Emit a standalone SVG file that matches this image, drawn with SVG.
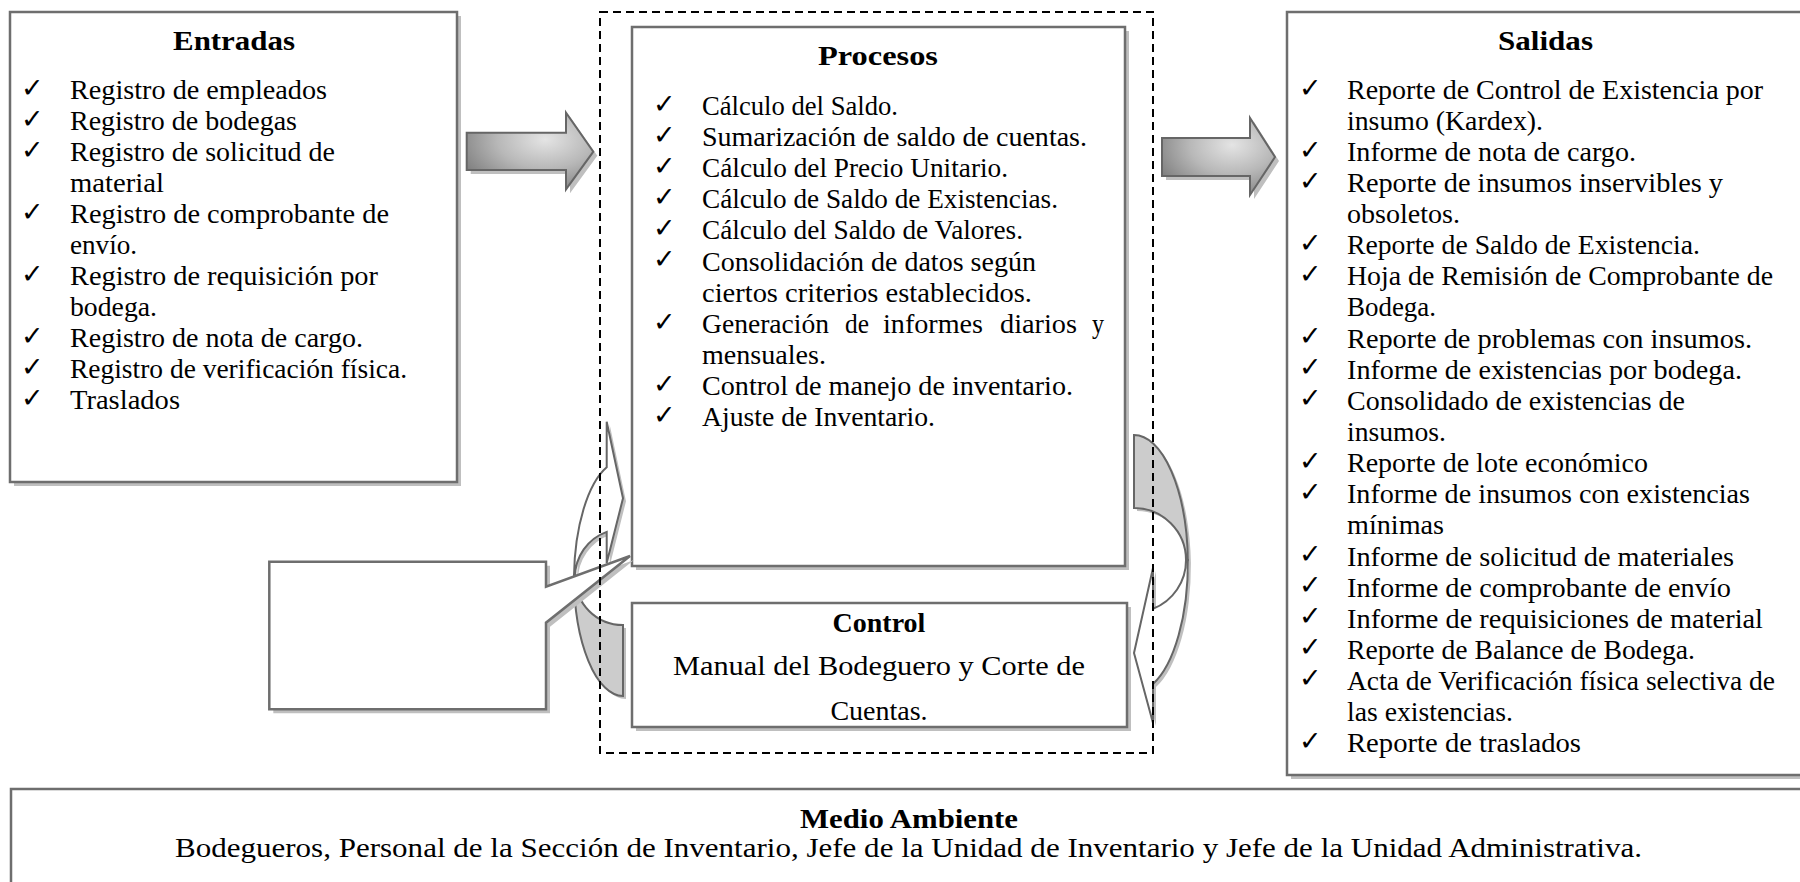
<svg xmlns="http://www.w3.org/2000/svg" width="1800" height="882" viewBox="0 0 1800 882">
<defs>
<style>
.box{fill:#fff;stroke:#6e6e6e;stroke-width:2.5}
.sh{fill:#bfbfbf;stroke:none}
.t{font-family:"Liberation Serif",serif;font-size:27px;fill:#000}
.tb{font-family:"Liberation Serif",serif;font-size:28px;font-weight:bold;fill:#000}
.ck{font-family:"DejaVu Sans",sans-serif;font-size:27px;fill:#000}
.arr{fill:url(#ag);stroke:#666;stroke-width:2}
.cv{stroke:#666;stroke-width:2;stroke-linejoin:miter}
.dash{fill:none;stroke:#000;stroke-width:2;stroke-dasharray:8 5}
</style>
<radialGradient id="ag" cx="0.62" cy="0.35" r="0.75">
<stop offset="0" stop-color="#e4e4e4"/>
<stop offset="0.5" stop-color="#b8b8b8"/>
<stop offset="1" stop-color="#7c7c7c"/>
</radialGradient>
</defs>
<rect width="1800" height="882" fill="#fff"/>

<g id="entradas">
<rect class="sh" x="14" y="16" width="447" height="470"/>
<rect class="box" x="10" y="12" width="447" height="470"/>
<text class="tb" x="173" y="50" textLength="122" lengthAdjust="spacingAndGlyphs">Entradas</text>
<g class="ck">
<text x="21" y="97">✓</text><text x="21" y="128">✓</text><text x="21" y="159">✓</text><text x="21" y="221">✓</text><text x="21" y="283">✓</text><text x="21" y="345">✓</text><text x="21" y="376">✓</text><text x="21" y="407">✓</text>
</g>
<g class="t">
<text x="70" y="99" textLength="257" lengthAdjust="spacingAndGlyphs">Registro de empleados</text>
<text x="70" y="130" textLength="227" lengthAdjust="spacingAndGlyphs">Registro de bodegas</text>
<text x="70" y="161" textLength="265" lengthAdjust="spacingAndGlyphs">Registro de solicitud de</text>
<text x="70" y="192" textLength="94" lengthAdjust="spacingAndGlyphs">material</text>
<text x="70" y="223" textLength="319" lengthAdjust="spacingAndGlyphs">Registro de comprobante de</text>
<text x="70" y="254" textLength="67" lengthAdjust="spacingAndGlyphs">envío.</text>
<text x="70" y="285" textLength="308" lengthAdjust="spacingAndGlyphs">Registro de requisición por</text>
<text x="70" y="316" textLength="87" lengthAdjust="spacingAndGlyphs">bodega.</text>
<text x="70" y="347" textLength="293" lengthAdjust="spacingAndGlyphs">Registro de nota de cargo.</text>
<text x="70" y="378" textLength="337" lengthAdjust="spacingAndGlyphs">Registro de verificación física.</text>
<text x="70" y="409" textLength="110" lengthAdjust="spacingAndGlyphs">Traslados</text>
</g>
</g>

<g id="procesos">
<rect class="sh" x="636" y="31" width="493" height="539"/>
<rect class="box" x="632" y="27" width="493" height="539"/>
<text class="tb" x="818" y="65" textLength="120" lengthAdjust="spacingAndGlyphs">Procesos</text>
<g class="ck">
<text x="653" y="113">✓</text><text x="653" y="144">✓</text><text x="653" y="175">✓</text><text x="653" y="206">✓</text><text x="653" y="237">✓</text><text x="653" y="268">✓</text><text x="653" y="331">✓</text><text x="653" y="393">✓</text><text x="653" y="424">✓</text>
</g>
<g class="t">
<text x="702" y="115" textLength="196" lengthAdjust="spacingAndGlyphs">Cálculo del Saldo.</text>
<text x="702" y="146" textLength="385" lengthAdjust="spacingAndGlyphs">Sumarización de saldo de cuentas.</text>
<text x="702" y="177" textLength="306" lengthAdjust="spacingAndGlyphs">Cálculo del Precio Unitario.</text>
<text x="702" y="208" textLength="356" lengthAdjust="spacingAndGlyphs">Cálculo de Saldo de Existencias.</text>
<text x="702" y="239" textLength="321" lengthAdjust="spacingAndGlyphs">Cálculo del Saldo de Valores.</text>
<text x="702" y="270.5" textLength="334" lengthAdjust="spacingAndGlyphs">Consolidación de datos según</text>
<text x="702" y="301.5" textLength="330" lengthAdjust="spacingAndGlyphs">ciertos criterios establecidos.</text>
<text y="332.5"><tspan x="702" textLength="127" lengthAdjust="spacingAndGlyphs">Generación</tspan><tspan x="845" textLength="24" lengthAdjust="spacingAndGlyphs">de</tspan><tspan x="883" textLength="100" lengthAdjust="spacingAndGlyphs">informes</tspan><tspan x="1000" textLength="77" lengthAdjust="spacingAndGlyphs">diarios</tspan><tspan x="1092" textLength="12" lengthAdjust="spacingAndGlyphs">y</tspan></text>
<text x="702" y="363.5" textLength="124" lengthAdjust="spacingAndGlyphs">mensuales.</text>
<text x="702" y="394.7" textLength="371" lengthAdjust="spacingAndGlyphs">Control de manejo de inventario.</text>
<text x="702" y="425.8" textLength="233" lengthAdjust="spacingAndGlyphs">Ajuste de Inventario.</text>
</g>
</g>

<g id="control">
<rect class="sh" x="636" y="607" width="495" height="124"/>
<rect class="box" x="632" y="603" width="495" height="124"/>
<text class="tb" x="879" y="632" text-anchor="middle">Control</text>
<text class="t" x="673" y="675" style="font-size:28px" textLength="412" lengthAdjust="spacingAndGlyphs">Manual del Bodeguero y Corte de</text>
<text class="t" x="879" y="720" style="font-size:28px" text-anchor="middle">Cuentas.</text>
</g>

<g id="salidas">
<rect class="sh" x="1291" y="16" width="520" height="763"/>
<rect class="box" x="1287" y="12" width="520" height="763"/>
<text class="tb" x="1498" y="50" textLength="95" lengthAdjust="spacingAndGlyphs">Salidas</text>
<g class="ck">
<text x="1299" y="97">✓</text><text x="1299" y="159">✓</text><text x="1299" y="190">✓</text><text x="1299" y="252">✓</text><text x="1299" y="283">✓</text><text x="1299" y="345">✓</text><text x="1299" y="376">✓</text><text x="1299" y="407">✓</text><text x="1299" y="470">✓</text><text x="1299" y="501">✓</text><text x="1299" y="563">✓</text><text x="1299" y="594">✓</text><text x="1299" y="625">✓</text><text x="1299" y="656">✓</text><text x="1299" y="687">✓</text><text x="1299" y="750">✓</text>
</g>
<g class="t">
<text x="1347" y="99" textLength="416" lengthAdjust="spacingAndGlyphs">Reporte de Control de Existencia por</text>
<text x="1347" y="130" textLength="196" lengthAdjust="spacingAndGlyphs">insumo (Kardex).</text>
<text x="1347" y="161" textLength="289" lengthAdjust="spacingAndGlyphs">Informe de nota de cargo.</text>
<text x="1347" y="192" textLength="376" lengthAdjust="spacingAndGlyphs">Reporte de insumos inservibles y</text>
<text x="1347" y="223" textLength="113" lengthAdjust="spacingAndGlyphs">obsoletos.</text>
<text x="1347" y="254" textLength="353" lengthAdjust="spacingAndGlyphs">Reporte de Saldo de Existencia.</text>
<text x="1347" y="285" textLength="426" lengthAdjust="spacingAndGlyphs">Hoja de Remisión de Comprobante de</text>
<text x="1347" y="316" textLength="89" lengthAdjust="spacingAndGlyphs">Bodega.</text>
<text x="1347" y="347.5" textLength="405" lengthAdjust="spacingAndGlyphs">Reporte de problemas con insumos.</text>
<text x="1347" y="378.7" textLength="395" lengthAdjust="spacingAndGlyphs">Informe de existencias por bodega.</text>
<text x="1347" y="409.8" textLength="338" lengthAdjust="spacingAndGlyphs">Consolidado de existencias de</text>
<text x="1347" y="441" textLength="99" lengthAdjust="spacingAndGlyphs">insumos.</text>
<text x="1347" y="472.2" textLength="301" lengthAdjust="spacingAndGlyphs">Reporte de lote económico</text>
<text x="1347" y="503.3" textLength="403" lengthAdjust="spacingAndGlyphs">Informe de insumos con existencias</text>
<text x="1347" y="534.4" textLength="97" lengthAdjust="spacingAndGlyphs">mínimas</text>
<text x="1347" y="565.5" textLength="387" lengthAdjust="spacingAndGlyphs">Informe de solicitud de materiales</text>
<text x="1347" y="596.6" textLength="384" lengthAdjust="spacingAndGlyphs">Informe de comprobante de envío</text>
<text x="1347" y="627.7" textLength="416" lengthAdjust="spacingAndGlyphs">Informe de requisiciones de material</text>
<text x="1347" y="658.8" textLength="348" lengthAdjust="spacingAndGlyphs">Reporte de Balance de Bodega.</text>
<text x="1347" y="689.9" textLength="428" lengthAdjust="spacingAndGlyphs">Acta de Verificación física selectiva de</text>
<text x="1347" y="721" textLength="166" lengthAdjust="spacingAndGlyphs">las existencias.</text>
<text x="1347" y="752.1" textLength="234" lengthAdjust="spacingAndGlyphs">Reporte de traslados</text>
</g>
</g>

<g id="medio-ambiente">
<rect class="sh" x="15" y="793" width="1800" height="100"/>
<rect class="box" x="11" y="789" width="1800" height="100"/>
<text class="tb" x="800" y="828" textLength="218" lengthAdjust="spacingAndGlyphs">Medio Ambiente</text>
<text class="t" x="175" y="857" textLength="1467" lengthAdjust="spacingAndGlyphs">Bodegueros, Personal de la Sección de Inventario, Jefe de la Unidad de Inventario y Jefe de la Unidad Administrativa.</text>
</g>

<g id="connectors">
<g id="arrow-entradas-procesos">
<path class="sh" d="M470.7,136.7 H570 V116.7 L597.3,155.7 L570,193.3 V174 H470.7 Z"/>
<path class="arr" d="M466.7,132.7 H566 V112.7 L593.3,151.7 L566,189.3 V170 H466.7 Z"/>
</g>
<g id="arrow-procesos-salidas">
<path class="sh" d="M1166,142 H1254 V122 L1279,161 L1254,199 V180 H1166 Z"/>
<path class="arr" d="M1162,138 H1250 V118 L1275,157 L1250,195 V176 H1162 Z"/>
</g>
<g id="curved-arrow-right">
<g transform="translate(3,3)" class="sh">
<path d="M1134,435 A54,130 0 0 1 1187.9,560 L1186,560 A52,52 0 0 0 1134,508 Z"/>
<path d="M1187.9,560 A54,130 0 0 1 1153,684 L1153,723 L1134,653 L1153,568 L1153,608.8 A52,52 0 0 0 1186,560 Z"/>
</g>
<path class="cv" fill="#cccccc" d="M1134,435 A54,130 0 0 1 1187.9,560 L1186,560 A52,52 0 0 0 1134,508 Z"/>
<path class="cv" fill="#ffffff" d="M1187.9,560 A54,130 0 0 1 1153,684 L1153,723 L1134,653 L1153,568 L1153,608.8 A52,52 0 0 0 1186,560 Z"/>
</g>
<g id="curved-arrow-left">
<g transform="translate(3,3)" class="sh">
<path d="M623,696 A49,120 0 0 1 574,576 L575,577 A48,48 0 0 0 623,625 Z"/>
<path d="M574,576 A49,120 0 0 1 606.7,467.3 L606.7,421.7 L623,498.3 L606.7,563 L606.7,531.9 A48,48 0 0 0 575,577 Z"/>
</g>
<path class="cv" fill="#cccccc" d="M623,696 A49,120 0 0 1 574,576 L575,577 A48,48 0 0 0 623,625 Z"/>
<path class="cv" fill="#ffffff" d="M574,576 A49,120 0 0 1 606.7,467.3 L606.7,421.7 L623,498.3 L606.7,563 L606.7,531.9 A48,48 0 0 0 575,577 Z"/>
</g>
</g>

<g id="callout">
<path class="sh" d="M273.3,565.7 H550 V590.7 L634,560 L550,626.7 V713.3 H273.3 Z"/>
<path class="box" d="M269.3,561.7 H546 V586.7 L630,556 L546,622.7 V709.3 H269.3 Z"/>
</g>

<g id="limite-sistema">
<rect class="dash" x="600" y="12" width="553" height="741"/>
</g>
</svg>
